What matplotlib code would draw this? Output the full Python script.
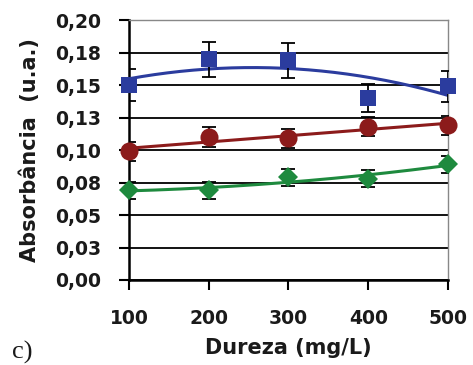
import numpy as np
import matplotlib.pyplot as plt

# Dureza (mg/L)
dureza = [100, 200, 300, 400, 500]

# absorbance series and error bars
abs_blue = [0.150, 0.170, 0.169, 0.140, 0.149]
err_blue = [0.012, 0.0135, 0.0135, 0.011, 0.012]
abs_red = [0.099, 0.110, 0.109, 0.118, 0.119]
err_red = [0.0075, 0.0075, 0.0075, 0.0075, 0.0075]
abs_green = [0.069, 0.069, 0.079, 0.078, 0.089]
err_green = [0.0065, 0.0065, 0.0065, 0.0065, 0.0065]

yticks = [0.0, 0.025, 0.05, 0.075, 0.10, 0.125, 0.15, 0.175, 0.20]
ytick_labels = ["0,00", "0,03", "0,05", "0,08", "0,10", "0,13", "0,15", "0,18", "0,20"]

series = [
    (abs_blue, err_blue, "#2b3c9e", "s", 11, 2),
    (abs_red, err_red, "#8c1b1b", "o", 13, 1),
    (abs_green, err_green, "#1e8a3e", "D", 10, 2),
]

FONT = "DejaVu Sans"
TXT = "#1a1a1a"

fig = plt.figure(figsize=(4.73, 3.65), dpi=100)
ax = fig.add_axes([0.2727, 0.2329, 0.947 - 0.2727, 0.945 - 0.2329])

xs = np.linspace(100, 500, 200)
for y, e, col, mk, ms, deg in series:
    # trendline
    p = np.polyfit(dureza, y, deg)
    ax.plot(xs, np.polyval(p, xs), color=col, lw=2.2, zorder=3)
    ax.errorbar(dureza, y, yerr=e, fmt="none", ecolor="black", elinewidth=1.3,
                capsize=5, capthick=1.3, zorder=4)
    ax.plot(dureza, y, linestyle="none", marker=mk, color=col, markersize=ms,
            markeredgewidth=0, zorder=5, clip_on=False)

ax.set_xlim(100, 500)
ax.set_ylim(0, 0.20)
ax.set_xticks(dureza)
ax.set_yticks(yticks)
ax.set_yticklabels(ytick_labels)
ax.yaxis.grid(True, color="black", lw=1.3)
ax.set_axisbelow(True)

for s in ["left", "bottom"]:
    ax.spines[s].set_linewidth(1.8)
    ax.spines[s].set_color("black")
for s in ["top", "right"]:
    ax.spines[s].set_linewidth(1.0)
    ax.spines[s].set_color("#888888")

ax.tick_params(axis="both", direction="out", length=7, width=1.5, colors="black",
               labelsize=13.5, labelcolor=TXT)
ax.tick_params(axis="y", pad=13)
ax.tick_params(axis="x", pad=14)
for lbl in ax.get_xticklabels() + ax.get_yticklabels():
    lbl.set_fontweight("bold")
    lbl.set_family(FONT)

ax.set_xlabel("Dureza (mg/L)", fontsize=15, fontweight="bold",
              family=FONT, color=TXT, labelpad=7)
ax.set_ylabel("Absorbância  (u.a.)", fontsize=15, fontweight="bold",
              family=FONT, color=TXT, labelpad=11)

fig.text(0.025, 0.018, "c)", fontsize=19, family="Liberation Serif", color=TXT)

fig.savefig("out.png", dpi=100)
